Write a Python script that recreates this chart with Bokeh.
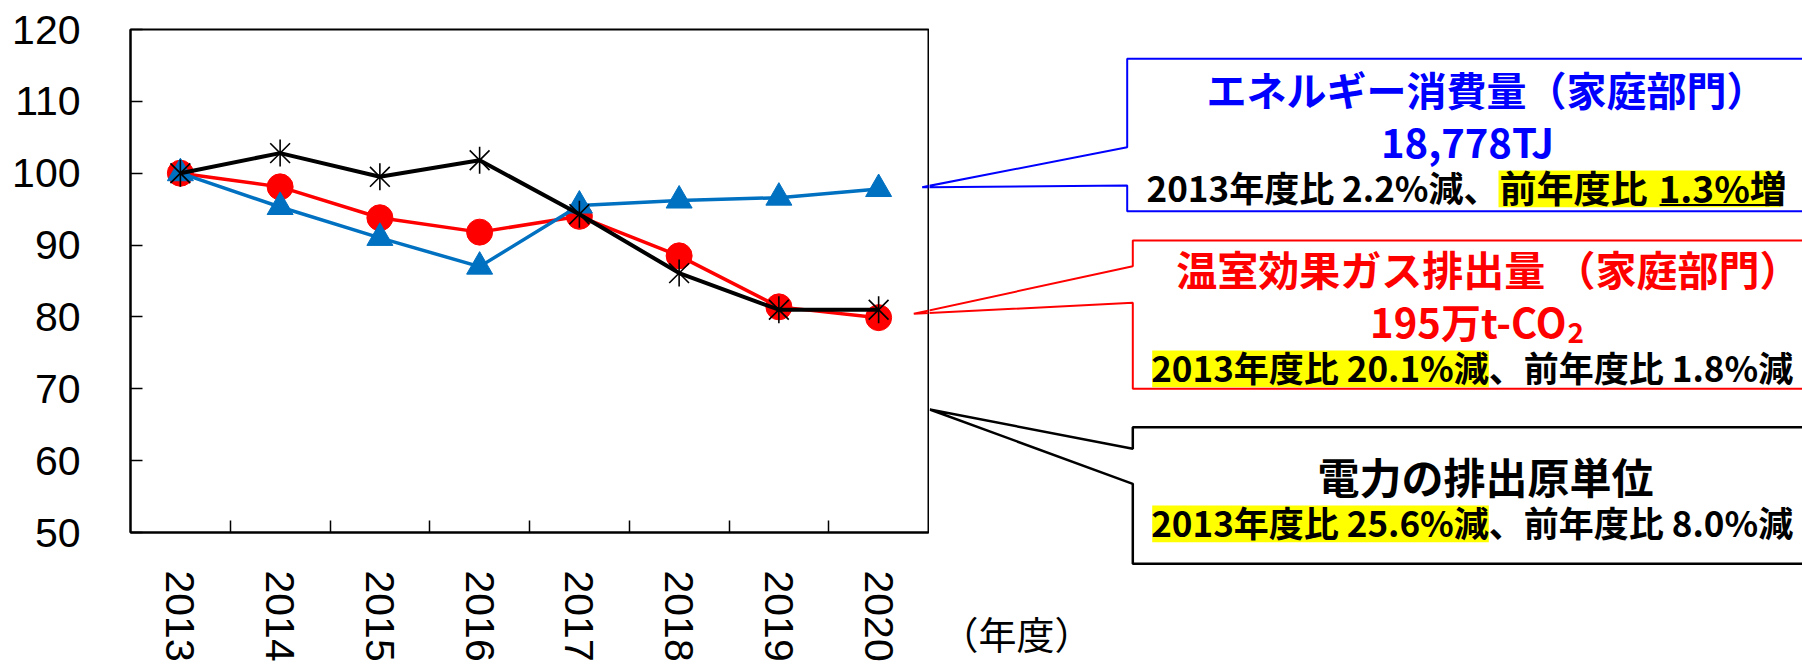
from math import pi

from bokeh.core.properties import value
from bokeh.embed import file_html
from bokeh.layouts import row
from bokeh.models import FixedTicker, Range1d
from bokeh.plotting import figure
from bokeh.resources import INLINE

# ---- data (index, 2013 = 100) ----
years = [2013, 2014, 2015, 2016, 2017, 2018, 2019, 2020]
year_labels = ["2013", "2014", "2015", "2016", "2017", "2018", "2019", "2020"]
energy = [100, 95.3, 91.0, 87.0, 95.5, 96.2, 96.6, 97.8]          # エネルギー消費量
ghg = [100, 98.1, 93.8, 91.8, 94.0, 88.5, 81.4, 79.9]             # 温室効果ガス排出量
power_factor = [100, 102.8, 99.5, 101.8, 94.3, 86.1, 81.0, 81.0]  # 電力の排出原単位
y_ticks = [50, 60, 70, 80, 90, 100, 110, 120]
x_unit_label = "（年度）"

# ---- callout texts ----
energy_title = "エネルギー消費量（家庭部門）"
energy_total = "18,778TJ"
energy_note_a = "2013年度比 2.2%減、"
energy_note_b = "前年度比"
energy_note_c = "1.3%増"
ghg_title = "温室効果ガス排出量 （家庭部門）"
ghg_total = "195万t-CO"
ghg_sub = "2"
ghg_note_a = "2013年度比 20.1%減"
ghg_note_b = "、前年度比 1.8%減"
pf_title = "電力の排出原単位"
pf_note_a = "2013年度比 25.6%減"
pf_note_b = "、前年度比 8.0%減"

BLUE = "#0070C0"
RED = "#FF0000"
BOX_BLUE = "#0000FF"
HILITE = "#FFFF00"
JP = value("Noto Sans CJK JP")

W, H = 1802, 664
FRAME_L, FRAME_R, FRAME_T, FRAME_B = 130, 928, 29, 532
TEXT_DY = -2  # nudges the text centre onto the glyph ink

# callout outlines in page pixels; the right side runs off the page
blue_box = ([1810, 1126.7, 1126.7, 921.7, 1126.7, 1126.7, 1810],
            [58.3, 58.3, 146.7, 186.7, 185.0, 210.7, 210.7])
red_box = ([1810, 1132.3, 1132.3, 913.3, 1132.3, 1132.3, 1810],
           [240.0, 240.0, 265.7, 313.3, 302.3, 388.3, 388.3])
black_box = ([1810, 1132.3, 1132.3, 929.3, 1132.3, 1132.3, 1810],
             [426.7, 426.7, 448.3, 409.0, 483.3, 563.3, 563.3])


def no_align(fig):
    if "frame_align" in fig.properties():
        fig.frame_align = False


# ---------------- chart ----------------
p = figure(frame_width=FRAME_R - FRAME_L, frame_height=FRAME_B - FRAME_T,
           x_range=Range1d(2012.5, 2020.5), y_range=Range1d(50, 120),
           output_backend="svg", toolbar_location=None,
           min_border_left=FRAME_L, min_border_right=1,
           min_border_top=FRAME_T, min_border_bottom=H - FRAME_B,
           background_fill_color="white", border_fill_color="white",
           outline_line_color="black", outline_line_width=2)
no_align(p)
p.title.visible = False
p.grid.visible = False
p.extra_x_ranges = {"px": Range1d(FRAME_L, FRAME_R)}
p.extra_y_ranges = {"py": Range1d(FRAME_B, FRAME_T)}

yax = p.yaxis[0]
yax.ticker = FixedTicker(ticks=y_ticks)
yax.major_tick_in = 12
yax.major_tick_out = 0
yax.minor_tick_in = 0
yax.minor_tick_out = 0
yax.major_tick_line_width = 1.5
yax.axis_line_width = 2
yax.major_label_standoff = 50
yax.major_label_text_font = "Liberation Sans"
yax.major_label_text_font_size = "41px"
yax.major_label_text_color = "black"

xax = p.xaxis[0]
xax.ticker = FixedTicker(ticks=years, minor_ticks=[y + 0.5 for y in years[:-1]])
xax.major_label_overrides = {y: s for y, s in zip(years, year_labels)}
xax.major_tick_in = 0
xax.major_tick_out = 0
xax.minor_tick_in = 12
xax.minor_tick_out = 0
xax.minor_tick_line_width = 1.5
xax.minor_tick_line_color = "black"
xax.axis_line_width = 2
xax.major_label_orientation = "vertical"
xax.major_label_standoff = 38
xax.major_label_text_font = "Liberation Sans"
xax.major_label_text_font_size = "41px"
xax.major_label_text_color = "black"

# pointer tips that reach inside the plot frame
p.line(blue_box[0], blue_box[1], line_color=BOX_BLUE, line_width=2,
       x_range_name="px", y_range_name="py")
p.line(red_box[0], red_box[1], line_color=RED, line_width=2,
       x_range_name="px", y_range_name="py")

# ---- series ----
p.line(years, ghg, line_color=RED, line_width=3.5)
p.scatter(years, ghg, marker="circle", size=26, color=RED)
p.line(years, energy, line_color=BLUE, line_width=3.5)
p.scatter(years, energy, marker="triangle", size=26, color=BLUE)
p.line(years, power_factor, line_color="black", line_width=4)
p.scatter(years, power_factor, marker="x", size=28, line_color="black", line_width=1.6)
p.scatter(years, power_factor, marker="dash", size=27, angle=pi / 2,
          line_color="black", line_width=1.6)

# ---------------- callouts ----------------
q = figure(frame_width=W - FRAME_R - 1, frame_height=H,
           x_range=Range1d(FRAME_R + 1, W), y_range=Range1d(H, 0),
           output_backend="svg", toolbar_location=None,
           x_axis_type=None, y_axis_type=None, min_border=0,
           background_fill_color="white", border_fill_color="white",
           outline_line_color=None)
no_align(q)
q.title.visible = False
q.grid.visible = False

# yellow highlights and underline
q.quad(left=[1498, 1151.7, 1151.7], right=[1780, 1488.3, 1488.3],
       top=[170, 350, 505], bottom=[206.7, 386.7, 541.7],
       fill_color=HILITE, line_color=None)
q.segment(x0=[1659], y0=[204.5], x1=[1780], y1=[204.5], line_color="black", line_width=2)

q.line(*blue_box, line_color=BOX_BLUE, line_width=2)
q.line(*red_box, line_color=RED, line_width=2)
q.line(*black_box, line_color="black", line_width=2.5)


def put(x, y, txt, size, color="black", align="center", style="bold"):
    q.text(x=[x], y=[y + TEXT_DY], text=[txt], text_font=JP, text_font_style=style,
           text_font_size=size, text_color=color, text_align=align,
           text_baseline="middle")


put(1486, 90, energy_title, "40px", BOX_BLUE)
put(1467, 142, energy_total, "40px", BOX_BLUE)
put(1498, 188, energy_note_a, "35px", align="right")
put(1499, 188, energy_note_b, "37px", align="left")
put(1658, 188, energy_note_c, "37px", align="left")

put(1800, 269.5, ghg_title, "41px", RED, align="right")
put(1566, 322, ghg_total, "40px", RED, align="right")
put(1567, 334, ghg_sub, "28px", RED, align="left")
put(1488.3, 367.5, ghg_note_a, "35px", align="right")
put(1488.3, 367.5, ghg_note_b, "35px", align="left")

put(1485, 476.7, pf_title, "42px")
put(1488.3, 523, pf_note_a, "35px", align="right")
put(1488.3, 523, pf_note_b, "35px", align="left")

put(940, 634, x_unit_label, "38px", align="left", style="normal")

layout = row(p, q, spacing=0)
open("out.html", "w").write(file_html(layout, INLINE))
